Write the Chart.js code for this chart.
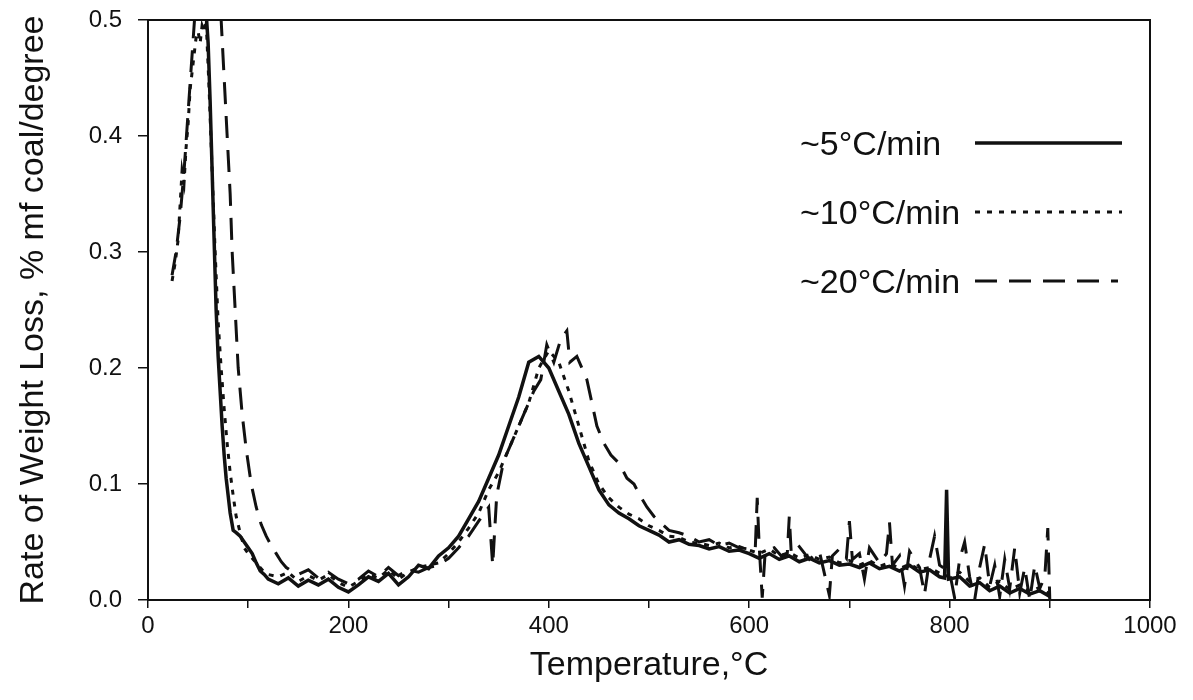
<!DOCTYPE html>
<html>
<head>
<meta charset="utf-8">
<title>Rate of Weight Loss vs Temperature</title>
<script src="https://cdn.jsdelivr.net/npm/chart.js@4.4.1/dist/chart.umd.min.js"></script>
<style>
  html, body { margin: 0; padding: 0; background: #fff; }
  #wrap { width: 1193px; height: 700px; position: relative; }
</style>
</head>
<body>
<div id="wrap"><canvas id="tgaChart" width="1193" height="700"></canvas></div>
<script>
// heating rate series: temperature (C) and rate of weight loss (% mf coal/degree)
const temp5 = [57, 60, 62, 64, 66, 68, 70, 72, 74, 76, 78, 80, 82, 85, 88, 92, 96, 100, 104, 108, 112, 116,
  120, 130, 140, 150, 160, 170, 180, 190, 200, 210, 220, 230, 240, 250, 260, 270, 280, 290,
  300, 310, 320, 330, 340, 350, 360, 370, 380, 390, 400, 410, 420, 430, 440, 450, 460, 470, 480, 490,
  500, 510, 520, 530, 540, 550, 560, 570, 580, 590, 600, 610, 620, 630, 640, 650, 660, 670, 680, 690,
  700, 710, 720, 730, 740, 750, 760, 770, 780, 790, 795, 797, 799, 810, 820, 830, 840, 850, 860, 870, 880, 890, 900];
const rate5 = [0.52, 0.48, 0.43, 0.37, 0.31, 0.25, 0.21, 0.18, 0.15, 0.125, 0.105, 0.09, 0.075, 0.06, 0.058, 0.055, 0.05, 0.045, 0.04, 0.032, 0.025, 0.022,
  0.018, 0.014, 0.019, 0.012, 0.017, 0.013, 0.018, 0.011, 0.007, 0.013, 0.02, 0.016, 0.023, 0.013, 0.02, 0.03, 0.027, 0.038,
  0.045, 0.055, 0.07, 0.085, 0.105, 0.125, 0.15, 0.175, 0.205, 0.21, 0.2, 0.18, 0.16, 0.135, 0.115, 0.095, 0.082, 0.075, 0.07, 0.064,
  0.06, 0.056, 0.05, 0.052, 0.048, 0.047, 0.044, 0.046, 0.042, 0.043, 0.04, 0.036, 0.04, 0.035, 0.038, 0.033, 0.036, 0.032, 0.034, 0.03,
  0.031, 0.028, 0.032, 0.027, 0.029, 0.025, 0.03, 0.024, 0.026, 0.02, 0.019, 0.095, 0.018, 0.02, 0.012, 0.015, 0.008, 0.012, 0.006, 0.01, 0.005, 0.008, 0.003];

const temp10 = [24, 27, 30, 32, 34, 36, 38, 40, 42, 44, 46, 48, 50, 52, 54, 56, 58, 61, 64, 67, 70, 73, 76, 79, 82, 85, 88, 92, 96, 100, 105, 110, 115, 120,
  130, 140, 150, 160, 170, 180, 190, 200, 210, 220, 230, 240, 250, 260, 270, 280, 290,
  300, 310, 320, 330, 340, 350, 360, 370, 380, 390, 400, 410, 420, 430, 440, 450, 460, 470, 480, 490,
  500, 510, 520, 530, 540, 550, 560, 570, 580, 590, 600, 610, 620, 630, 640, 650, 660, 670, 680, 690,
  700, 710, 720, 730, 740, 750, 760, 770, 780, 790, 800, 810, 820, 830, 840, 850, 860, 870, 880, 890, 900];
const rate10 = [0.275, 0.29, 0.31, 0.34, 0.37, 0.36, 0.39, 0.41, 0.44, 0.455, 0.47, 0.485, 0.49, 0.48, 0.495, 0.49, 0.5, 0.44, 0.37, 0.3, 0.24, 0.2, 0.165, 0.135, 0.11, 0.09, 0.072, 0.058, 0.045, 0.04, 0.035, 0.03, 0.025, 0.022,
  0.02, 0.024, 0.016, 0.021, 0.017, 0.022, 0.015, 0.011, 0.016, 0.022, 0.019, 0.026, 0.018, 0.024, 0.028, 0.03, 0.032,
  0.04, 0.05, 0.062, 0.075, 0.095, 0.11, 0.13, 0.15, 0.17, 0.2, 0.215, 0.205, 0.18, 0.15, 0.12, 0.1, 0.088, 0.08, 0.074, 0.07,
  0.064, 0.06, 0.055, 0.054, 0.05, 0.049, 0.047, 0.049, 0.045, 0.046, 0.043, 0.04, 0.044, 0.038, 0.041, 0.036, 0.039, 0.035, 0.037, 0.032,
  0.034, 0.03, 0.034, 0.029, 0.032, 0.027, 0.031, 0.026, 0.028, 0.023, 0.02, 0.024, 0.016, 0.019, 0.011, 0.016, 0.009, 0.013, 0.007, 0.011, 0.005];

const temp20 = [24, 28, 32, 36, 40, 44, 48, 52, 70, 73, 76, 79, 82, 84, 87, 90, 94, 98, 103, 108, 113, 118, 123, 128, 133, 138, 143,
  150, 160, 170, 180, 190, 200, 210, 220, 230, 240, 250, 260, 270, 280, 290,
  300, 310, 320, 330, 340, 344, 348, 355, 365, 375, 385, 392, 398, 405, 412, 418, 421, 428, 433, 438, 443, 448, 455, 462, 470, 478, 485, 491, 498,
  505, 510, 520, 530, 540, 550, 560, 570, 580, 590, 600, 606, 608, 610, 613, 616, 625, 632, 638, 640, 642, 650, 660, 670, 680, 683, 690, 697,
  700, 703, 710, 715, 720, 730, 737, 740, 743, 750, 755, 760, 770, 775, 780, 785, 790, 800, 805, 810, 815, 820, 825, 830, 835, 840, 845,
  850, 855, 860, 865, 870, 875, 880, 885, 890, 895, 898, 900];
const rate20 = [0.28, 0.3, 0.33, 0.37, 0.42, 0.47, 0.52, 0.56, 0.56, 0.5, 0.45, 0.4, 0.35, 0.3, 0.25, 0.2, 0.16, 0.13, 0.1, 0.08, 0.065, 0.055, 0.047, 0.04, 0.033, 0.028, 0.025,
  0.022, 0.026, 0.019, 0.024, 0.018, 0.014, 0.018, 0.025, 0.02, 0.028, 0.021, 0.026, 0.024, 0.028, 0.03,
  0.036, 0.045, 0.055, 0.068, 0.08, 0.03, 0.09, 0.12, 0.14, 0.16, 0.18, 0.19, 0.22, 0.205, 0.225, 0.232, 0.205, 0.21, 0.2, 0.19, 0.17, 0.15, 0.135, 0.125, 0.118, 0.105, 0.1, 0.09, 0.08,
  0.072, 0.068, 0.06, 0.058, 0.055, 0.05, 0.052, 0.047, 0.049, 0.045, 0.044, 0.043, 0.088, 0.046, 0.002, 0.042, 0.045, 0.038, 0.04, 0.072, 0.04, 0.046, 0.035, 0.042, 0.004, 0.038, 0.044, 0.036,
  0.068, 0.035, 0.04, 0.018, 0.045, 0.032, 0.04, 0.067, 0.03, 0.038, 0.012, 0.042, 0.028, 0.005, 0.035, 0.055, 0.03, 0.024, 0.002, 0.035, 0.05, 0.02, 0, 0.028, 0.048, 0.012, 0.03,
  0.003, 0.035, 0.01, 0.045, 0.006, 0.028, 0, 0.03, 0.01, 0.02, 0.062, 0];

const seriesNames = ['~5°C/min', '~10°C/min', '~20°C/min'];
const xTicks = [0, 200, 400, 600, 800, 1000];
const yTicks = [0.0, 0.1, 0.2, 0.3, 0.4, 0.5];

const ink = '#111';
const dashes = [[], [5, 7], [22, 12]];
const widths = [3.5, 3, 3];

function toPoints(xs, ys) {
  return xs.map((x, i) => ({ x: x, y: ys[i] }));
}

// box around the plot area (scan has all four sides)
const framePlugin = {
  id: 'frame',
  afterDatasetsDraw(chart) {
    const { ctx, chartArea: a } = chart;
    ctx.save();
    ctx.strokeStyle = ink;
    ctx.lineWidth = 2;
    ctx.strokeRect(a.left, a.top, a.right - a.left, a.bottom - a.top);
    ctx.restore();
  }
};

// legend inside the plot: label text, then a sample of the line style
const legendPlugin = {
  id: 'insideLegend',
  afterDraw(chart) {
    const ctx = chart.ctx;
    const rows = [143, 212, 281];
    const lineEnds = [1122, 1122, 1118];
    ctx.save();
    ctx.fillStyle = ink;
    ctx.font = '34px "Liberation Sans", Arial, sans-serif';
    ctx.textBaseline = 'middle';
    ctx.textAlign = 'left';
    seriesNames.forEach((name, i) => {
      ctx.fillText(name, 800, rows[i] + 3);
      ctx.beginPath();
      ctx.setLineDash(dashes[i]);
      ctx.lineWidth = widths[i];
      ctx.strokeStyle = ink;
      ctx.moveTo(975, rows[i]);
      ctx.lineTo(lineEnds[i], rows[i]);
      ctx.stroke();
    });
    ctx.restore();
  }
};

const allTemps = [temp5, temp10, temp20];
const allRates = [rate5, rate10, rate20];

const ctx = document.getElementById('tgaChart').getContext('2d');
new Chart(ctx, {
  type: 'line',
  data: {
    datasets: seriesNames.map((name, i) => ({
      label: name,
      data: toPoints(allTemps[i], allRates[i]),
      borderColor: ink,
      borderWidth: widths[i],
      borderDash: dashes[i],
      pointRadius: 0,
      tension: 0,
      fill: false
    }))
  },
  options: {
    responsive: false,
    animation: false,
    layout: { padding: { top: 20, right: 43, left: 0, bottom: 0 } },
    plugins: {
      legend: { display: false },
      tooltip: { enabled: false }
    },
    scales: {
      x: {
        type: 'linear',
        min: 0,
        max: 1000,
        afterFit: s => { s.height = 100; s.paddingLeft = 0; s.paddingRight = 0; },
        afterBuildTicks: s => { s.ticks = [0, 100, 200, 300, 400, 500, 600, 700, 800, 900, 1000].map(v => ({ value: v })); },
        ticks: {
          color: ink,
          font: { family: '"Liberation Sans", Arial', size: 24 },
          padding: 4,
          maxRotation: 0,
          autoSkip: false,
          callback: v => xTicks.includes(v) ? String(v) : ''
        },
        grid: { drawOnChartArea: false, drawTicks: true, tickLength: 8, color: ink, lineWidth: 1.5 },
        border: { display: true, color: ink, width: 2 },
        title: {
          display: true,
          text: 'Temperature,°C',
          color: ink,
          font: { family: '"Liberation Sans", Arial', size: 34 },
          // bottom axis title is offset from the canvas bottom by padding.bottom
          padding: { top: 0, bottom: 14 }
        }
      },
      y: {
        min: 0,
        max: 0.5,
        afterFit: s => { s.width = 148; s.paddingTop = 0; s.paddingBottom = 0; },
        afterBuildTicks: s => { s.ticks = yTicks.map(v => ({ value: v })); },
        ticks: {
          color: ink,
          font: { family: '"Liberation Sans", Arial', size: 24 },
          padding: 16,
          callback: v => v.toFixed(1)
        },
        grid: { drawOnChartArea: false, drawTicks: true, tickLength: 10, color: ink, lineWidth: 1.5 },
        border: { display: true, color: ink, width: 2 },
        title: {
          display: true,
          text: 'Rate of Weight Loss, % mf coal/degree',
          color: ink,
          font: { family: '"Liberation Sans", Arial', size: 34 },
          padding: { top: 13, bottom: 0 }
        }
      }
    }
  },
  plugins: [framePlugin, legendPlugin]
});
</script>
</body>
</html>
